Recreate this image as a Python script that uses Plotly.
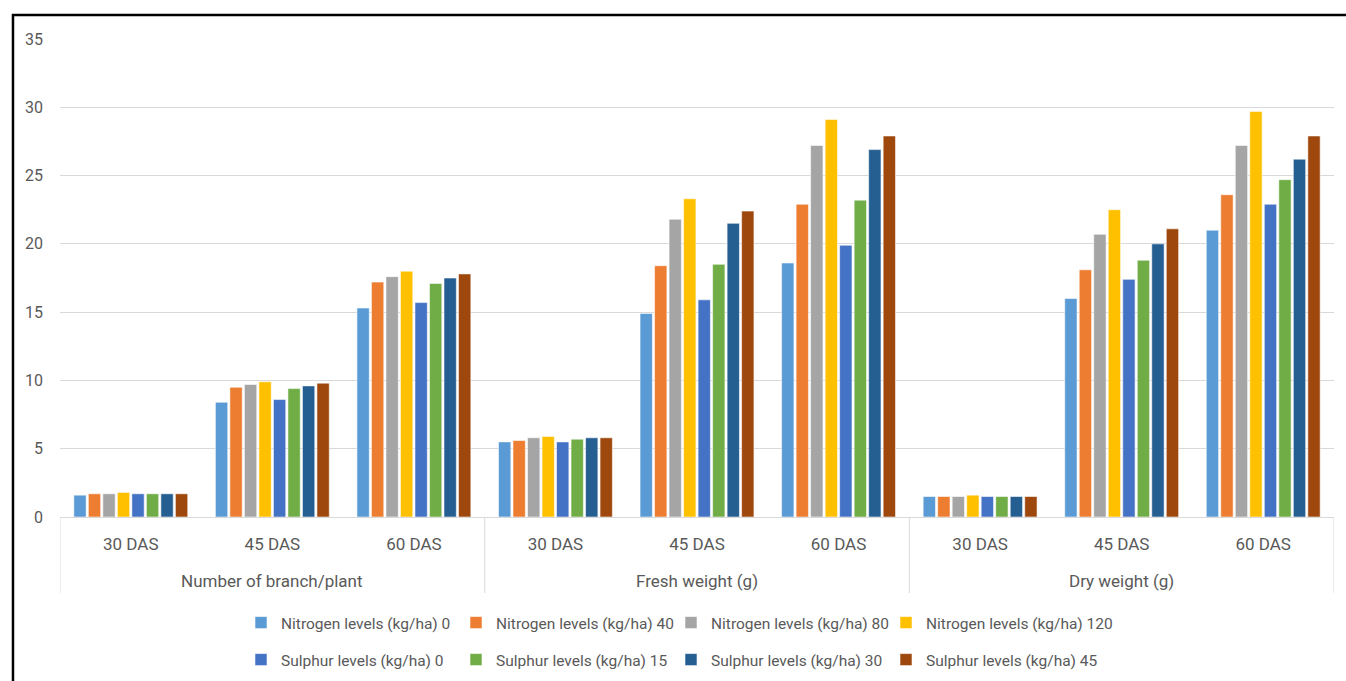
import plotly.graph_objects as go

# Parameters and sampling stages
parameters = ["Number of branch/plant", "Fresh weight (g)", "Dry weight (g)"]
stages = ["30 DAS", "45 DAS", "60 DAS"]

series_names = [
    "Nitrogen levels (kg/ha) 0",
    "Nitrogen levels (kg/ha) 40",
    "Nitrogen levels (kg/ha) 80",
    "Nitrogen levels (kg/ha) 120",
    "Sulphur levels (kg/ha) 0",
    "Sulphur levels (kg/ha) 15",
    "Sulphur levels (kg/ha) 30",
    "Sulphur levels (kg/ha) 45",
]

# Values per treatment, ordered: branch 30/45/60, fresh 30/45/60, dry 30/45/60
n0 = [1.6, 8.4, 15.3, 5.5, 14.9, 18.6, 1.5, 16.0, 21.0]
n40 = [1.7, 9.5, 17.2, 5.6, 18.4, 22.9, 1.5, 18.1, 23.6]
n80 = [1.7, 9.7, 17.6, 5.8, 21.8, 27.2, 1.5, 20.7, 27.2]
n120 = [1.8, 9.9, 18.0, 5.9, 23.3, 29.1, 1.6, 22.5, 29.7]
s0 = [1.7, 8.6, 15.7, 5.5, 15.9, 19.9, 1.5, 17.4, 22.9]
s15 = [1.7, 9.4, 17.1, 5.7, 18.5, 23.2, 1.5, 18.8, 24.7]
s30 = [1.7, 9.6, 17.5, 5.8, 21.5, 26.9, 1.5, 20.0, 26.2]
s45 = [1.7, 9.8, 17.8, 5.8, 22.4, 27.9, 1.5, 21.1, 27.9]

series_values = [n0, n40, n80, n120, s0, s15, s30, s45]
colors = ["#5B9BD5", "#ED7D31", "#A5A5A5", "#FFC000",
          "#4472C4", "#70AD47", "#255E91", "#9E480E"]

y_ticks = [0, 5, 10, 15, 20, 25, 30, 35]

# One x slot per (parameter, stage) pair
inner = [s for _ in parameters for s in stages]
slots = list(range(len(inner)))
n_stage = len(stages)

FONT = "Roboto, Arial, sans-serif"
TEXT = "#595959"
GRID = "#D9D9D9"

W, H = 1346, 681

# Legend grid: 4 columns x 2 rows, fixed column pitch (pixels)
LEG_COLS = 4
LEG_LEFT = 241
LEG_PITCH = 215
LEG_ROWS_Y = [623, 660]

fig = go.Figure()
legend_layouts = {}
for i, (name, vals, col) in enumerate(zip(series_names, series_values, colors)):
    key = "legend" if i == 0 else f"legend{i + 1}"
    fig.add_trace(go.Bar(
        x=slots,
        y=vals,
        name=name,
        marker=dict(color=col, line=dict(color="rgba(255,255,255,0.55)", width=1)),
        legend=key,
    ))
    row, colno = divmod(i, LEG_COLS)
    legend_layouts[key] = dict(
        orientation="h",
        xref="container", yref="container",
        x=(LEG_LEFT + colno * LEG_PITCH) / W, xanchor="left",
        y=1 - LEG_ROWS_Y[row] / H, yanchor="middle",
        itemwidth=30,
        bgcolor="rgba(0,0,0,0)",
        font=dict(family=FONT, size=15.5, color=TEXT),
    )

fig.update_layout(
    barmode="group",
    bargap=0.18,
    bargroupgap=0.15,
    width=W,
    height=H,
    margin=dict(l=60, r=12, t=39, b=164),
    paper_bgcolor="white",
    plot_bgcolor="white",
    font=dict(family=FONT, size=16, color=TEXT),
    xaxis=dict(
        range=[-0.5, len(slots) - 0.5],
        tickvals=slots,
        ticktext=inner,
        showline=True,
        linecolor=GRID,
        linewidth=1,
        ticks="",
        showgrid=False,
        zeroline=False,
        ticklabelstandoff=12,
        tickfont=dict(family=FONT, size=17, color=TEXT),
    ),
    yaxis=dict(
        range=[0, 35],
        tickvals=y_ticks,
        showgrid=True,
        gridcolor=GRID,
        gridwidth=1,
        zeroline=False,
        showline=False,
        ticks="",
        ticklabelstandoff=16,
        tickfont=dict(family=FONT, size=16, color=TEXT),
    ),
    showlegend=True,
    **legend_layouts,
)

# Parameter labels under each group of stages
for k, p in enumerate(parameters):
    fig.add_annotation(
        x=k * n_stage + (n_stage - 1) / 2, xref="x",
        y=-0.134, yref="paper", yanchor="middle",
        text=p, showarrow=False,
        font=dict(family=FONT, size=17, color=TEXT),
    )

# Vertical dividers between parameter groups
for k in range(len(parameters) + 1):
    xd = k * n_stage - 0.5
    fig.add_shape(
        type="line", xref="x", yref="paper",
        x0=xd, x1=xd, y0=0, y1=-0.159,
        line=dict(color=GRID, width=1),
    )

# Outer frame drawn around the chart area
fig.add_shape(
    type="rect", xref="paper", yref="paper",
    x0=-0.0369, x1=1.02, y0=-0.4, y1=1.050,
    line=dict(color="black", width=2.5),
    fillcolor="rgba(0,0,0,0)",
    layer="above",
)

fig.write_html("out.html")
